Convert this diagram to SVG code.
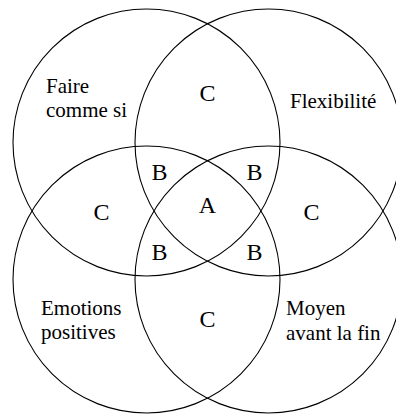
<svg xmlns="http://www.w3.org/2000/svg" width="396" height="414" viewBox="0 0 396 414">
<style>
.c{fill:none;stroke:#000;stroke-width:1.1}
.t{font-size:21px;fill:#000}
.l{font-size:24px;fill:#000;text-anchor:middle}
text{font-family:'Liberation Serif','Times New Roman',Times,'DejaVu Serif',serif}
</style>
<rect width="396" height="414" fill="#fff"/>
<g id="connectors"></g>
<g id="circle-faire">
<circle class="c" cx="146.5" cy="142.5" r="133.5"/>
<text class="t" x="46" y="92.5" font-family="Liberation Serif, serif">Faire</text>
<text class="t" x="46" y="117" font-family="Liberation Serif, serif">comme si</text>
</g>
<g id="circle-flexibilite">
<circle class="c" cx="268.5" cy="142.5" r="133.5"/>
<text class="t" x="290" y="107.5">Flexibilité</text>
</g>
<g id="circle-emotions">
<circle class="c" cx="146.5" cy="279.5" r="133.5"/>
<text class="t" x="41" y="314.5">Emotions</text>
<text class="t" x="41" y="339">positives</text>
</g>
<g id="circle-moyen">
<circle class="c" cx="268.5" cy="279.5" r="133.5"/>
<text class="t" x="286" y="315">Moyen</text>
<text class="t" x="286" y="339.5">avant la fin</text>
</g>
<g id="regions">
<text class="l" x="207.5" y="101">C</text>
<text class="l" x="101.5" y="220">C</text>
<text class="l" x="311.5" y="220">C</text>
<text class="l" x="207.5" y="327">C</text>
<text class="l" x="207.5" y="213">A</text>
<text class="l" x="159.5" y="180">B</text>
<text class="l" x="254.5" y="180">B</text>
<text class="l" x="159.5" y="260">B</text>
<text class="l" x="254.5" y="260">B</text>
</g>
</svg>
